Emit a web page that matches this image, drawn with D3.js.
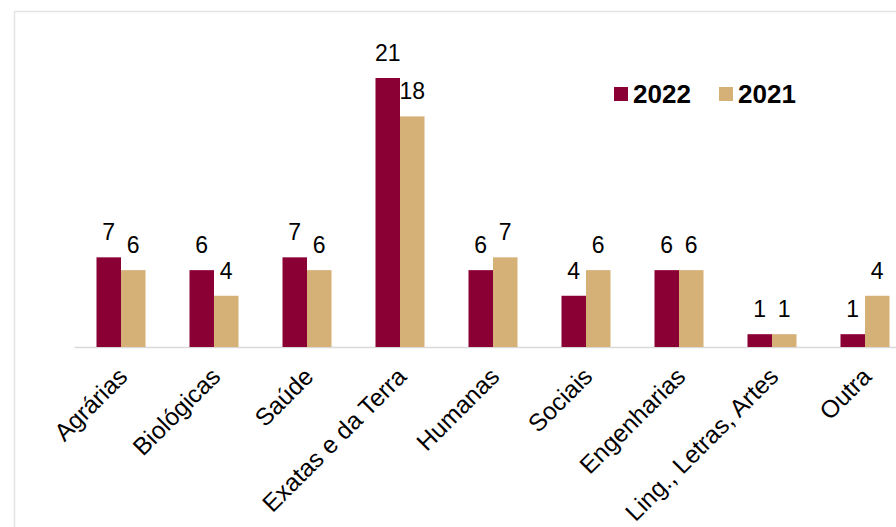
<!DOCTYPE html>
<html><head><meta charset="utf-8">
<script src="https://cdn.jsdelivr.net/npm/d3@7"></script>
<style>html,body{margin:0;padding:0;background:#fff;}svg{display:block;}</style>
</head><body>
<svg id="chart" width="896" height="527"></svg>
<script>
const categories = ["Agrárias","Biológicas","Saúde","Exatas e da Terra","Humanas","Sociais","Engenharias","Ling., Letras, Artes","Outra"];
const seriesNames = ["2022","2021"];
const values2022 = [7,6,7,21,6,4,6,1,1];
const values2021 = [6,4,6,18,7,6,6,1,4];
const colors = ["#8b0034","#d5b077"];

const svg = d3.select("#chart");
const font = "'Liberation Sans', Arial, sans-serif";

// frame
svg.append("rect").attr("x",14.5).attr("y",11.5).attr("width",1000).attr("height",1000)
  .attr("fill","none").attr("stroke","#e4e4e4").attr("stroke-width",1.5);

const x0 = d3.scaleBand().domain(categories).range([74.5, 74.5 + 93*categories.length]).paddingInner(0.473).paddingOuter(0.2365);
const x1 = d3.scaleBand().domain(seriesNames).range([0, x0.bandwidth()]);
const y = d3.scaleLinear().domain([0,21]).range([347,78]);

const data = categories.map((c,i)=>({cat:c, vals:[{s:"2022",v:values2022[i]},{s:"2021",v:values2021[i]}]}));

// baseline
svg.append("line").attr("x1",74.5).attr("x2",896).attr("y1",y(0)+0.5).attr("y2",y(0)+0.5)
  .attr("stroke","#d9d9d9").attr("stroke-width",1.5);

const g = svg.selectAll("g.cat").data(data).join("g").attr("class","cat")
  .attr("transform",d=>`translate(${x0(d.cat)},0)`);

g.selectAll("rect").data(d=>d.vals).join("rect")
  .attr("x",d=>x1(d.s)).attr("width",x1.bandwidth())
  .attr("y",d=>y(d.v)).attr("height",d=>y(0)-y(d.v))
  .attr("fill",(d,i)=>colors[i]);

g.selectAll("text.val").data(d=>d.vals).join("text").attr("class","val")
  .attr("x",d=>x1(d.s)+x1.bandwidth()/2).attr("y",d=>y(d.v)-17)
  .attr("text-anchor","middle").attr("font-family",font).attr("font-size",23).attr("fill","#000")
  .text(d=>d.v);

// category axis labels
svg.selectAll("text.cat").data(categories).join("text").attr("class","cat")
  .attr("transform",d=>`translate(${x0(d)+x0.bandwidth()/2+8},378) rotate(-45)`)
  .attr("text-anchor","end").attr("font-family",font).attr("font-size",24.5).attr("fill","#000")
  .text(d=>d);

// legend
const legX = [614, 719];
const leg = svg.selectAll("g.leg").data(seriesNames).join("g").attr("class","leg")
  .attr("transform",(d,i)=>`translate(${legX[i]},87)`);
leg.append("rect").attr("width",14).attr("height",14).attr("fill",(d,i)=>colors[i]);
leg.append("text").attr("x",19).attr("y",16).attr("font-family",font).attr("font-weight","bold")
  .attr("font-size",26).attr("fill","#000").text(d=>d);
</script>
</body></html>
